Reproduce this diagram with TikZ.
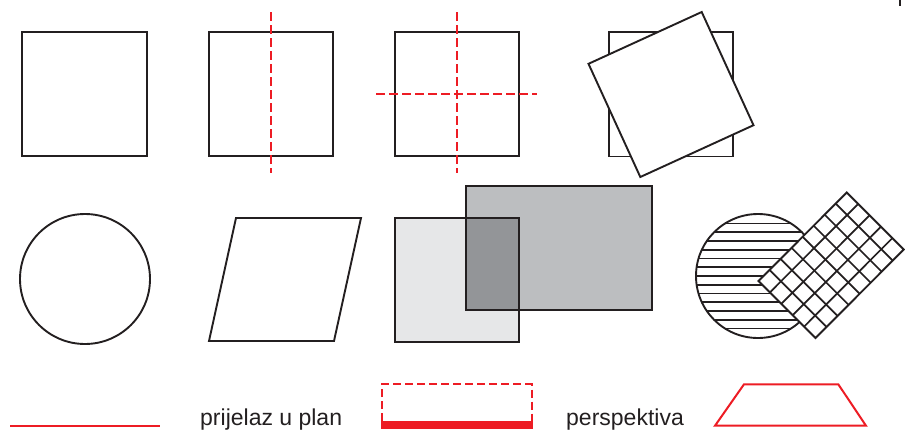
\documentclass[tikz,border=0pt]{standalone}
\usepackage{fontspec}
\setmainfont{Liberation Sans}
\definecolor{ink}{HTML}{231F20}
\definecolor{myred}{HTML}{ED1C24}
\definecolor{grayA}{HTML}{E6E7E8}
\definecolor{grayB}{HTML}{BCBEC0}
\definecolor{grayC}{HTML}{939598}
\tikzset{
  outline/.style={draw=ink, line width=1.9pt, line join=miter},
  thinline/.style={draw=ink, line width=1.7pt},
  reddash/.style={draw=myred, line width=2pt, dash pattern=on 9pt off 4pt},
  redline/.style={draw=myred, line width=2pt},
  label/.style={inner sep=0pt, anchor=base west, text=ink, font=\fontsize{23}{27}\selectfont}
}
\begin{document}
\begin{tikzpicture}[x=1pt,y=-1pt]
\useasboundingbox (0,0) rectangle (905,429);
% row 1
\draw[outline] (22,32) rectangle (147,156);
\draw[outline] (209,32) rectangle (333,156);
\draw[reddash] (271,12) -- (271,173);
\draw[outline] (395,32) rectangle (519,156);
\draw[reddash] (457,12) -- (457,173);
\draw[reddash] (376,94) -- (537,94);
\draw[outline] (609,32) rectangle (733,156.5);
\filldraw[outline, fill=white] (701.7,12) -- (753.5,125.2) -- (640.3,177) -- (588.5,63.8) -- cycle;
% row 2
\draw[outline] (85,279) circle[radius=65];
\draw[outline] (236,218) -- (361,218) -- (334,341) -- (209,341) -- cycle;
% gray rectangles
\fill[grayA] (395,218) rectangle (519,342);
\fill[grayB] (466,186) rectangle (652,310);
\fill[grayC] (466,218) rectangle (519,310);
\draw[outline] (395,218) rectangle (519,342);
\draw[outline] (466,186) rectangle (652,310);
% hatched circle
\begin{scope}
  \clip (758,276) circle[radius=62];
  \foreach \k in {-6,...,6} \draw[thinline] (690,276+8.75*\k) -- (830,276+8.75*\k);
\end{scope}
\draw[outline] (758,276) circle[radius=62];
% grid rectangle
\begin{scope}[shift={(758.5,281)}, x={(11.03pt,11.06pt)}, y={(11.4pt,-11.4pt)}]
  \fill[white] (0,0) -- (8,0) -- (8,5) -- (0,5) -- cycle;
  \foreach \i in {1,...,7} \draw[thinline] (\i,0) -- (\i,5);
  \foreach \j in {1,...,4} \draw[thinline] (0,\j) -- (8,\j);
  \draw[outline] (0,0) -- (8,0) -- (8,5) -- (0,5) -- cycle;
\end{scope}
% top-right mark
\draw[ink, line width=2pt] (900,0) -- (900,6);
% bottom row
\draw[redline] (10,425.7) -- (160,425.7);
\node[label] (t1) at (200,425) {prijelaz u plan};
\draw[reddash, dash pattern=on 8pt off 4pt] (381.7,421) -- (381.7,384.3) -- (531.7,384.3) -- (531.7,421);
\fill[myred] (381,421) rectangle (532.5,429);
\node[label] (t2) at (566,425) {perspektiva};
\draw[redline, line join=miter] (715,425.7) -- (866,425.7) -- (838.3,384.3) -- (744,384.3) -- cycle;
\end{tikzpicture}
\end{document}
